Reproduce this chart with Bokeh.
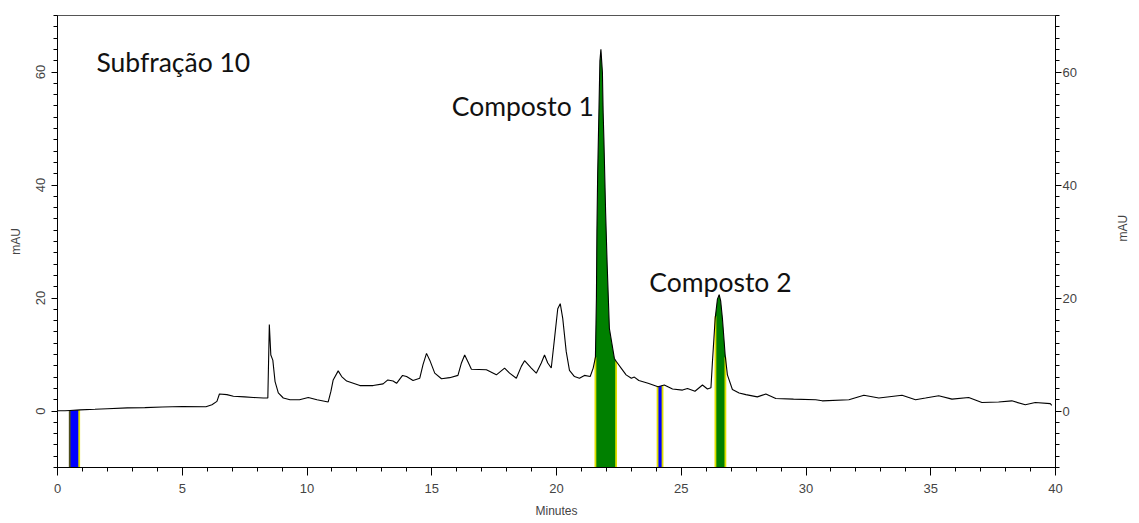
import numpy as np
from math import pi
from bokeh.plotting import figure
from bokeh.models import Range1d, LinearAxis, SingleIntervalTicker
from bokeh.core.properties import value
from bokeh.embed import file_html
from bokeh.resources import INLINE

# ---- data ----
minutes = [0.00, 0.30, 0.50, 0.90, 1.50, 2.00, 2.80, 3.50, 4.20, 5.00, 5.95, 6.19, 6.39, 6.49,
           6.79, 7.05, 7.50, 7.85, 8.25, 8.43, 8.49, 8.55, 8.63, 8.72, 8.85, 9.05, 9.32, 9.70,
           10.05, 10.40, 10.85, 10.96, 11.05, 11.25, 11.39, 11.59, 12.12, 12.65, 13.05, 13.24,
           13.45, 13.59, 13.83, 13.99, 14.25, 14.52, 14.65, 14.79, 14.92, 15.12, 15.39, 15.72,
           16.05, 16.19, 16.32, 16.45, 16.59, 17.19, 17.59, 17.92, 18.12, 18.39, 18.59, 18.72,
           18.99, 19.19, 19.39, 19.52, 19.65, 19.79, 19.92, 20.05, 20.15, 20.25, 20.39, 20.52,
           20.72, 20.92, 21.12, 21.35, 21.47, 21.56, 21.60, 21.62, 21.65, 21.70, 21.74, 21.78,
           21.84, 21.87, 21.90, 21.97, 22.03, 22.12, 22.32, 22.39, 22.59, 22.79, 23.00, 23.12,
           23.30, 23.67, 24.07, 24.32, 24.65, 25.05, 25.25, 25.55, 25.85, 26.05, 26.19, 26.25,
           26.36, 26.45, 26.52, 26.58, 26.65, 26.76, 26.85, 27.05, 27.32, 27.59, 28.05, 28.39,
           28.79, 29.50, 30.39, 30.65, 31.72, 32.32, 32.92, 33.85, 34.39, 34.79, 35.32, 35.85,
           36.52, 37.05, 37.72, 38.25, 38.79, 39.19, 39.79, 39.85]
mau = [0.05, 0.05, 0.10, 0.20, 0.30, 0.40, 0.55, 0.60, 0.70, 0.80, 0.75, 1.1, 1.7, 3.0,
       2.9, 2.6, 2.5, 2.4, 2.3, 2.3, 15.3, 9.9, 9.0, 5.2, 3.2, 2.3, 2.0, 2.0,
       2.4, 2.0, 1.6, 3.5, 5.5, 7.1, 6.1, 5.3, 4.5, 4.5, 4.8, 5.5,
       5.3, 4.9, 6.3, 6.1, 5.4, 5.8, 8.2, 10.2, 9.0, 6.7, 5.7, 5.9,
       6.3, 8.5, 9.9, 8.7, 7.4, 7.3, 6.4, 7.6, 6.7, 5.8, 7.9, 8.9,
       7.6, 6.7, 8.5, 9.9, 8.5, 7.6, 12.8, 18.1, 19.0, 16.4, 10.5, 7.2,
       6.1, 5.8, 6.3, 6.1, 7.6, 9.5, 20.0, 32.0, 42.0, 53.0, 62.0, 64.0,
       60.0, 52.8, 48.0, 35.0, 26.0, 14.6, 9.3, 8.8, 7.6, 6.4, 5.8, 6.0,
       5.4, 4.9, 4.3, 4.6, 3.9, 3.7, 4.0, 3.5, 4.6, 3.9, 4.1, 8.7,
       16.4, 19.8, 20.6, 19.5, 16.4, 9.9, 6.4, 3.8, 3.2, 2.9, 2.5, 3.0,
       2.2, 2.1, 2.0, 1.8, 2.0, 2.8, 2.3, 2.8, 2.0, 2.3, 2.7, 2.1,
       2.4, 1.5, 1.6, 1.8, 1.1, 1.5, 1.3, 1.0]

# integration windows (start, end) in minutes and their fill colours
win_start = [0.49, 21.56, 24.05, 26.37]
win_end = [0.87, 22.39, 24.25, 26.77]
win_color = ["#0000ff", "#008000", "#0000ff", "#008000"]
win_left_edge = ["#4d4d1a", "#e0e000", "#e0e000", "#e0e000"]

annot_text = ["Subfração 10", "Composto 1", "Composto 2"]
annot_x = [1.56, 15.8, 23.72]
annot_y = [61.8, 54.0, 22.9]

x_ticks_interval = 5
y_ticks_interval = 20

t = np.array(minutes)
a = np.array(mau)
YMIN, YMAX = -10, 70

p = figure(width=1139, height=520, output_backend="svg", toolbar_location=None,
           x_range=Range1d(0, 40), y_range=Range1d(YMIN, YMAX),
           min_border_left=57, min_border_right=83, min_border_top=15, min_border_bottom=50)
p.grid.visible = False
p.outline_line_color = "#555555"
p.outline_line_width = 1
p.background_fill_color = "white"
p.border_fill_color = "white"

# fills
for s, e, c, le in zip(win_start, win_end, win_color, win_left_edge):
    inside = (t > s) & (t < e)
    xs = np.concatenate([[s], t[inside], [e]])
    ys = np.interp(xs, t, a)
    p.varea(x=xs, y1=np.full(len(xs), YMIN), y2=ys, fill_color=c, fill_alpha=1.0)
    p.segment(x0=[s], y0=[YMIN], x1=[s], y1=[np.interp(s, t, a)], line_color=le, line_width=1.8)
    p.segment(x0=[e], y0=[YMIN], x1=[e], y1=[np.interp(e, t, a)], line_color="#e0e000", line_width=1.8)

p.line(t, a, line_color="black", line_width=1.1)

# annotations
for txt, x, y in zip(annot_text, annot_x, annot_y):
    p.text(x=[x], y=[y], text=[txt], text_font=value("Lato"), text_font_size="26.5px",
           text_color="#111111", text_align="left", text_baseline="alphabetic")

tick_font = "Liberation Sans"

xa = p.xaxis[0]
xa.ticker = SingleIntervalTicker(interval=x_ticks_interval, num_minor_ticks=5)
xa.axis_label = "Minutes"
xa.axis_label_text_font = tick_font
xa.axis_label_text_font_size = "12px"
xa.axis_label_text_font_style = "normal"
xa.axis_label_standoff = 8
xa.major_label_text_font = tick_font
xa.major_label_text_font_size = "13px"
xa.major_label_standoff = 8
xa.major_tick_out = 8
xa.major_tick_in = 0
xa.minor_tick_out = 4
xa.minor_tick_in = 0
xa.axis_line_color = "black"
xa.major_tick_line_color = "black"
xa.minor_tick_line_color = "black"

ya = p.yaxis[0]
ya.ticker = SingleIntervalTicker(interval=y_ticks_interval, num_minor_ticks=10)
ya.axis_label = "mAU"
ya.axis_label_text_font = tick_font
ya.axis_label_text_font_size = "12px"
ya.axis_label_text_font_style = "normal"
ya.axis_label_standoff = 10
ya.major_label_text_font = tick_font
ya.major_label_text_font_size = "13px"
ya.major_label_orientation = "vertical"
ya.major_label_standoff = 7
ya.major_tick_out = 6
ya.major_tick_in = 0
ya.minor_tick_out = 4
ya.minor_tick_in = 0

ra = LinearAxis(ticker=SingleIntervalTicker(interval=y_ticks_interval, num_minor_ticks=10))
ra.major_label_text_font = tick_font
ra.major_label_text_font_size = "13px"
ra.major_label_standoff = 1
ra.major_tick_out = 6
ra.major_tick_in = 0
ra.minor_tick_out = 4
ra.minor_tick_in = 0
ra.axis_label = "mAU"
ra.axis_label_text_font = tick_font
ra.axis_label_text_font_size = "12px"
ra.axis_label_text_font_style = "normal"
ra.axis_label_standoff = 43
if "axis_label_orientation" in ra.properties():
    ra.axis_label_orientation = pi / 2
p.add_layout(ra, "right")

open("out.html", "w").write(file_html(p, INLINE))
